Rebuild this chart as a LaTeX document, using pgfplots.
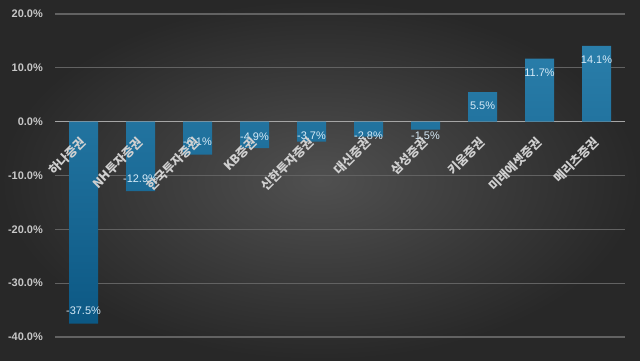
\documentclass[border=0pt]{standalone}
\usepackage{fontspec}
\setmainfont{Liberation Sans}
\newfontfamily\cjk{Noto Sans CJK KR}
\usepackage{pgfplots}
\usepackage{pgfplotstable}
\pgfplotsset{compat=1.18}
\definecolor{bgin}{RGB}{80,80,80}
\definecolor{bgout}{RGB}{40,40,40}
\definecolor{gridc}{RGB}{98,98,98}
\definecolor{zeroc}{RGB}{165,165,165}
\definecolor{tickc}{RGB}{200,200,200}
\definecolor{catc}{RGB}{208,208,208}
\definecolor{barTop}{RGB}{42,126,170}
\definecolor{barBot}{RGB}{12,88,132}
\definecolor{valc}{RGB}{215,235,248}

\pgfplotstableread{
x y sh
0 -37.5 8.9
1 -12.9 8.9
2 -6.1 8.9
3 -4.9 7.8
4 -3.7 4.3
5 -2.8 0.7
6 -1.5 -4.3
7 5.5 -10
8 11.7 -10
9 14.1 -10
}\datatable

\pgfplotsset{
  common/.style={
    at={(1.375cm,0.575cm)}, anchor=south west,
    scale only axis, width=14.25cm, height=8.075cm,
    xmin=-0.5, xmax=9.5, ymin=-40, ymax=20,
    major tick length=0pt, clip=false,
  }
}

\begin{document}
\begin{tikzpicture}[x=1cm,y=1cm]
\shade[inner color=bgin, outer color=bgout] (0,0) rectangle (16,9);
\useasboundingbox (0,0) rectangle (16,9);
\begin{axis}[
  common,
  axis x line=middle, axis y line=left,
  x axis line style={-, draw=zeroc, line width=1.1pt},
  y axis line style={draw=none},
  xtick=\empty, ytick={-40,-30,-20,-10,0,10,20},
  yticklabels={-40.0\%,-30.0\%,-20.0\%,-10.0\%,0.0\%,10.0\%,20.0\%},
  yticklabel style={font=\bfseries\fontsize{7.8}{9}\selectfont, color=tickc, inner sep=0pt, xshift=-8.5pt},
  ymajorgrids, grid style={draw=gridc, line width=0.8pt},
  ybar, bar width=0.725cm,
  nodes near coords={\pgfmathprintnumber[fixed, fixed zerofill, precision=1, assume math mode=true]{\pgfplotspointmeta}\%},
  nodes near coords align={center},
  visualization depends on={\thisrow{sh} \as \sh},
  every node near coord/.append style={font=\fontsize{7.8}{9}\selectfont, color=valc, anchor=center, yshift=\sh pt, inner sep=0pt},
]
\addplot[draw=none, top color=barTop, bottom color=barBot, bar shift=0pt] table[x=x, y=y] {\datatable};
\end{axis}
\begin{axis}[
  common,
  axis x line=middle, axis y line=none,
  x axis line style={draw=none},
  xtick={0,...,9}, ytick=\empty,
  xticklabels={하나증권,NH투자증권,한국투자증권,KB증권,신한투자증권,대신증권,삼성증권,키움증권,미래에셋증권,메리츠증권},
  xticklabel style={xshift=-3pt, yshift=-10pt, rotate=45, anchor=north east, inner sep=0pt, font=\cjk\bfseries\fontsize{8.8}{10}\selectfont, color=catc},
]
\end{axis}
\end{tikzpicture}
\end{document}
